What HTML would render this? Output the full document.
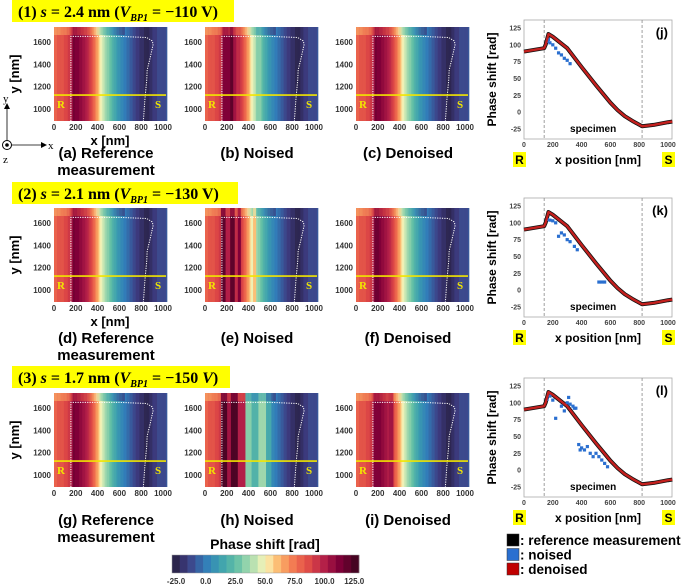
<!DOCTYPE html>
<html><head><meta charset="utf-8"><style>
html,body{margin:0;padding:0;background:#fff;}
svg{display:block;font-family:"Liberation Sans",Arial,sans-serif;}
</style></head><body>
<svg id="fig" width="685" height="587" viewBox="0 0 685 587" xmlns="http://www.w3.org/2000/svg"></svg>
<script>
// ---------- data ----------
const heatX   = [0,120,150,180,230,300,350,400,430,470,520,580,650,720,800,860,920,1030];
const heatRef = [80,88,95,115,110,100,85,65,50,38,25,10,0,-10,-20,-25,-15,-10];
const noisedBands1 = [[160,200,112],[230,260,118],[290,320,95],[470,520,30]];
const noisedBands2 = [[150,190,120],[190,230,100],[230,270,118],[270,300,95],[300,330,112],[440,470,60]];
const noisedBands3 = [[150,200,122],[200,240,105],[240,300,125],[300,370,100],[370,430,30],[430,490,20],[490,560,35],[560,610,15]];
const denoisedBands3 = [[160,220,112],[300,340,105]];
const lineX = [0,140,150,170,200,300,400,500,600,650,700,760,820,900,1000,1030];
const lineV = [90,95,100,116,112,95,67,40,14,3,-6,-14,-21,-19,-15,-14];
const noisedJx = [160,170,180,200,220,240,260,280,300,320];
const noisedJv = [105,108,103,100,95,88,85,80,77,72];
const noisedKx = [160,180,200,220,240,260,280,300,320,350,370,520,540,560];
const noisedKv = [105,104,103,100,80,85,82,75,72,65,60,12,12,12];
const noisedLx = [160,180,200,220,260,280,300,310,320,340,350,360,380,390,400,420,440,460,480,500,520,540,560,580];
const noisedLv = [105,110,104,77,95,88,100,108,98,95,92,92,38,30,33,30,35,25,20,25,20,15,10,5];
const yTicks = [125,100,75,50,25,0,-25];
const xTicks = [0,200,400,600,800,1000];
const hyTicks = [1000,1200,1400,1600];
const cbTicks = [-25,0,25,50,75,100,125];

// ---------- helpers ----------
const NS="http://www.w3.org/2000/svg";
const svg=document.getElementById('fig');
function mk(tag,attrs,parent){const e=document.createElementNS(NS,tag);for(const k in attrs)e.setAttribute(k,attrs[k]);(parent||svg).appendChild(e);return e;}
const cstops=[[-28,[38,30,60]],[-15,[62,60,130]],[0,[50,125,185]],[12,[60,160,175]],[25,[95,190,165]],[38,[170,220,175]],[50,[250,245,185]],[62,[252,180,105]],[75,[242,115,80]],[88,[220,70,70]],[100,[178,30,72]],[112,[128,0,56]],[128,[60,5,30]]];
function cmap(v){if(v<=cstops[0][0])return rgb(cstops[0][1]);for(let i=1;i<cstops.length;i++){if(v<=cstops[i][0]){const a=cstops[i-1],b=cstops[i];const t=(v-a[0])/(b[0]-a[0]);return rgb(a[1].map((c,j)=>c+(b[1][j]-c)*t));}}return rgb(cstops[cstops.length-1][1]);}
function rgb(c){return 'rgb('+c.map(x=>Math.round(x)).join(',')+')';}
function interp(xs,vs,x){if(x<=xs[0])return vs[0];for(let i=1;i<xs.length;i++){if(x<=xs[i]){const t=(x-xs[i-1])/(xs[i]-xs[i-1]);return vs[i-1]+(vs[i]-vs[i-1])*t;}}return vs[vs.length-1];}
function quant(v){return Math.round(v/4)*4;}
function txt(x,y,s,opt,parent){const e=mk('text',Object.assign({x:x,y:y},opt||{}),parent);e.textContent=s;return e;}

// ---------- heatmap panels ----------
const HSX=0.109, HSY=0.1117, HW=112, HH=94;
function heatPanel(px,py,bands,name,showY,showXTitle){
  const g=mk('g',{});
  
  
  const hx=v=>px+v*HSX, hy=v=>py+(1734-v)*HSY;
  for(let x=0;x<1030;x+=7){
    let v=interp(heatX,heatRef,x+3.5);
    for(const b of bands){if(x+3.5>=b[0]&&x+3.5<b[1])v=b[2];}
    const r=mk('rect',{x:hx(x),y:py,width:7*HSX+0.4,height:HH,fill:cmap(quant(v))},g);
    
    
    if(x<650){mk('rect',{x:hx(x),y:py,width:7*HSX+0.4,height:8,fill:cmap(quant(v-18)),opacity:0.7},g);}
  }
  const ol=[[155,893],[155,1650],[600,1650],[850,1640],[900,1610],[910,1580],[880,1450],[855,1350],[850,1250],[835,1100],[820,893]];
  const p=mk('polyline',{points:ol.map(q=>hx(q[0])+','+hy(q[1])).join(' '),fill:'none',stroke:'#fff','stroke-width':1,'stroke-dasharray':'1.2 1.2'},g);
  
  
  const yl=mk('line',{x1:px,x2:px+HW,y1:hy(1125),y2:hy(1125),stroke:'#f2e600','stroke-width':1.6},g);
  
  
  const R=txt(px+3,hy(1125)+13,'R',{'font-family':'Liberation Serif,serif','font-weight':'bold','font-size':11,fill:'#f2e600'},g);
  
  const S=txt(px+HW-11,hy(1125)+13,'S',{'font-family':'Liberation Serif,serif','font-weight':'bold','font-size':11,fill:'#f2e600'},g);
  
  for(const t of xTicks){const e=txt(hx(t),py+HH+9,String(t),{'font-size':8,'text-anchor':'middle',fill:'#333','font-weight':'bold'},g);}
  for(const t of hyTicks){const e=txt(px-3,hy(t)+3,String(t),{'font-size':8,'text-anchor':'end',fill:'#333','font-weight':'bold'},g);}
  if(showY){const e=txt(0,0,'y [nm]',{'font-size':13,'font-weight':'bold','text-anchor':'middle',transform:'translate('+(px-35)+','+(py+HH/2)+') rotate(-90)'},g);}
  if(showXTitle){const e=txt(px+56,py+HH+24,'x [nm]',{'font-size':13,'font-weight':'bold','text-anchor':'middle'},g);}
}
const rowsY=[27,208,393], colsX=[54,205,356];
const noisedSets=[noisedBands1,noisedBands2,noisedBands3];
const denSets=[[],[[170,210,114]],denoisedBands3];
for(let r=0;r<3;r++){
  heatPanel(colsX[0],rowsY[r],[],'reference-heatmap-'+(r+1),true,r<2);
  heatPanel(colsX[1],rowsY[r],noisedSets[r],'noised-heatmap-'+(r+1),false,false);
  heatPanel(colsX[2],rowsY[r],denSets[r],'denoised-heatmap-'+(r+1),false,false);
}
const caps=[['(a) Reference','(b) Noised','(c) Denoised'],['(d) Reference','(e) Noised','(f) Denoised'],['(g) Reference','(h) Noised','(i) Denoised']];
const capY=[158,343,525];
for(let r=0;r<3;r++){for(let c=0;c<3;c++){const e=txt(colsX[c]+52,capY[r],caps[r][c],{'font-size':15,'font-weight':'bold','text-anchor':'middle'});
 if(c==0){const m=txt(colsX[c]+52,capY[r]+17,'measurement',{'font-size':15,'font-weight':'bold','text-anchor':'middle'});}}}

const titles=[['1','2.4','−110 V',222],['2','2.1','−130 V',226],['3','1.7','−150 ',218]];
const titleY=[0,182,366];
for(let r=0;r<3;r++){
  const g=mk('g',{});
  mk('rect',{x:12,y:titleY[r],width:titles[r][3],height:22,fill:'#ffff00'},g);
  const t=mk('text',{x:18,y:titleY[r]+17,'font-family':'Liberation Serif,serif','font-weight':'bold','font-size':16},g);
  const parts=[['('+titles[r][0]+') ',''],['s','italic'],[' = '+titles[r][1]+' nm (',''],['V','italic']];
  for(const p of parts){const s=mk('tspan',{'font-style':p[1]||'normal'},t);s.textContent=p[0];}
  const sub=mk('tspan',{'font-style':'italic','font-size':10,dy:4},t);sub.textContent='BP1';
  const rest=mk('tspan',{dy:-4},t);rest.textContent=' = '+titles[r][2];
  if(r==2){const v=mk('tspan',{'font-style':'italic'},t);v.textContent='V';}
  const cl=mk('tspan',{},t);cl.textContent=')';
}

{const g=mk('g',{});
 mk('line',{x1:7,y1:140,x2:7,y2:107,stroke:'#000','stroke-width':0.8},g);
 mk('path',{d:'M4,109 L7,103 L10,109 Z',fill:'#000'},g);
 mk('line',{x1:12,y1:145,x2:43,y2:145,stroke:'#000','stroke-width':0.8},g);
 mk('path',{d:'M41,142 L47,145 L41,148 Z',fill:'#000'},g);
 mk('circle',{cx:7,cy:145,r:4.5,fill:'none',stroke:'#000','stroke-width':1},g);
 mk('circle',{cx:7,cy:145,r:1.8,fill:'#000'},g);
 txt(3,102,'y',{'font-family':'Liberation Serif,serif','font-size':11},g);
 txt(48,149,'x',{'font-family':'Liberation Serif,serif','font-size':11},g);
 txt(3,163,'z',{'font-family':'Liberation Serif,serif','font-size':11},g);}

// ---------- line plots ----------
const LX0=524, LSX=0.144, LW=148;
const lineY125=[28,206,386];
const nX=[noisedJx,noisedKx,noisedLx], nV=[noisedJv,noisedKv,noisedLv];
const tags=['(j)','(k)','(l)'];
for(let r=0;r<3;r++){
  const y125=lineY125[r], sy=0.673;
  const lx=v=>LX0+v*LSX, ly=v=>y125+(125-v)*sy;
  const top=y125-8, bot=y125+111;
  const g=mk('g',{});
  mk('rect',{x:LX0,y:top,width:LW,height:bot-top,fill:'#fff',stroke:'#aaa','stroke-width':0.8},g);
  for(const d of [140,820]){const l=mk('line',{x1:lx(d),x2:lx(d),y1:top,y2:bot,stroke:'#888','stroke-width':0.8,'stroke-dasharray':'3 2'},g);}
  for(const t of yTicks){const e=txt(LX0-3,ly(t)+2.5,String(t),{'font-size':7,'font-weight':'bold','text-anchor':'end',fill:'#444'},g);}
  for(const t of xTicks){const e=txt(lx(t),bot+8,String(t),{'font-size':7,'font-weight':'bold','text-anchor':'middle',fill:'#444'},g);}
  const pts=lineX.map((x,i)=>lx(x)+','+ly(lineV[i])).join(' ');
  const ref=mk('polyline',{points:pts,fill:'none',stroke:'#111','stroke-width':4,'stroke-linejoin':'round'},g);
  
  for(let i=0;i<nX[r].length;i++){const p=mk('rect',{x:lx(nX[r][i])-1.6,y:ly(nV[r][i])-1.6,width:3.2,height:3.2,fill:'#2a6fd0'},g);}
  const den=mk('polyline',{points:pts,fill:'none',stroke:'#c4201e','stroke-width':2.4,'stroke-linejoin':'round'},g);
  
  const sp=txt(lx(480),ly(-25)+3,'specimen',{'font-size':10,'font-weight':'bold','text-anchor':'middle'},g);
  const tg=txt(LX0+LW-4,top+17,tags[r],{'font-size':13,'font-weight':'bold','text-anchor':'end'},g);
  const yt=txt(0,0,'Phase shift [rad]',{'font-size':12,'font-weight':'bold','text-anchor':'middle',transform:'translate('+(LX0-28)+','+(top+(bot-top)/2)+') rotate(-90)'},g);
  const by=bot+13;
  mk('rect',{x:513,y:by,width:13,height:15,fill:'#ffff00'},g);
  txt(519.5,by+12,'R',{'font-size':12,'font-weight':'bold','text-anchor':'middle'},g);
  mk('rect',{x:662,y:by,width:13,height:15,fill:'#ffff00'},g);
  txt(668.5,by+12,'S',{'font-size':12,'font-weight':'bold','text-anchor':'middle'},g);
  const xt=txt(598,by+12,'x position [nm]',{'font-size':12,'font-weight':'bold','text-anchor':'middle'},g);
}

const legItems=[['#000',': reference measurement'],['#2a6fd0',': noised'],['#c00000',': denoised']];
legItems.forEach((it,i)=>{const g=mk('g',{});
 mk('rect',{x:507,y:534+i*14.5,width:12,height:12,fill:it[0],stroke:'#333','stroke-width':0.5},g);
 txt(520,545+i*14.5,it[1],{'font-size':13.5,'font-weight':'bold'},g);});

{const g=mk('g',{});
 const cx0=172,cx1=359,v0=-28.4,v1=129,n=24;
 const cbx=v=>cx0+(v-v0)/(v1-v0)*(cx1-cx0);
 for(let i=0;i<n;i++){const va=v0+(v1-v0)*i/n, vb=v0+(v1-v0)*(i+1)/n;mk('rect',{x:cbx(va),y:555,width:cbx(vb)-cbx(va)+0.3,height:18,fill:cmap((va+vb)/2)},g);}
 mk('rect',{x:cx0,y:555,width:cx1-cx0,height:18,fill:'none',stroke:'#999','stroke-width':0.5},g);
 for(const t of cbTicks){const e=txt(cbx(t),584,t.toFixed(1),{'font-size':8,'font-weight':'bold','text-anchor':'middle',fill:'#333'},g);}
 const ct=txt(265,549,'Phase shift [rad]',{'font-size':14,'font-weight':'bold','text-anchor':'middle'},g);}
</script>
</body></html>
